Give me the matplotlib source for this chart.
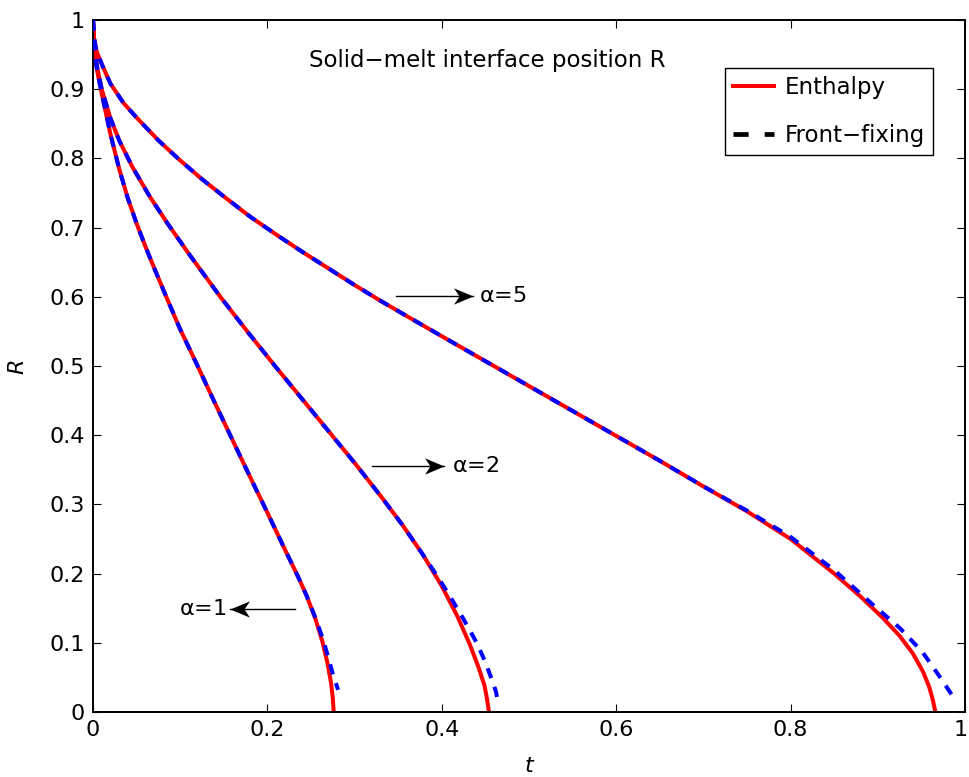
import matplotlib
matplotlib.use("Agg")
import matplotlib.pyplot as plt
from matplotlib.lines import Line2D
from matplotlib.path import Path
import matplotlib.transforms as mtransforms

plt.rcParams['font.family'] = ['DejaVu Sans']
plt.rcParams['mathtext.fontset'] = 'custom'
plt.rcParams['mathtext.it'] = 'DejaVu Sans:italic'
plt.rcParams['mathtext.rm'] = 'DejaVu Sans'

# ---- data (t, R) ----
t_enth_a1 = [0, 0.002, 0.005, 0.010, 0.020, 0.030, 0.040, 0.050, 0.060, 0.070, 0.085, 0.100, 0.120, 0.140,
             0.160, 0.180, 0.200, 0.220, 0.235, 0.245, 0.255, 0.263, 0.269, 0.273, 0.275, 0.276]
R_enth_a1 = [1, 0.950, 0.925, 0.894, 0.835, 0.785, 0.742, 0.706, 0.673, 0.642, 0.597, 0.553, 0.500, 0.446,
             0.393, 0.340, 0.288, 0.235, 0.196, 0.168, 0.135, 0.102, 0.070, 0.042, 0.020, 0.0]
t_ff_a1 = [0, 0.002, 0.005, 0.010, 0.020, 0.030, 0.040, 0.050, 0.060, 0.070, 0.085, 0.100, 0.120, 0.140,
           0.160, 0.180, 0.200, 0.220, 0.235, 0.245, 0.256, 0.264, 0.270, 0.275, 0.279, 0.281]
R_ff_a1 = [1, 0.950, 0.925, 0.894, 0.835, 0.785, 0.742, 0.706, 0.673, 0.642, 0.597, 0.553, 0.500, 0.446,
           0.393, 0.340, 0.288, 0.235, 0.196, 0.168, 0.133, 0.104, 0.078, 0.055, 0.040, 0.032]

t_enth_a2 = [0, 0.002, 0.005, 0.010, 0.020, 0.030, 0.045, 0.065, 0.086, 0.110, 0.146, 0.180, 0.210, 0.240,
             0.270, 0.300, 0.330, 0.355, 0.378, 0.400, 0.418, 0.432, 0.442, 0.449, 0.452, 0.454]
R_enth_a2 = [1, 0.955, 0.930, 0.900, 0.858, 0.826, 0.788, 0.745, 0.705, 0.662, 0.600, 0.545, 0.498, 0.452,
             0.406, 0.360, 0.312, 0.270, 0.228, 0.182, 0.138, 0.098, 0.065, 0.038, 0.018, 0.0]
t_ff_a2 = [0, 0.002, 0.005, 0.010, 0.020, 0.030, 0.045, 0.065, 0.086, 0.110, 0.146, 0.180, 0.210, 0.240,
           0.270, 0.300, 0.330, 0.355, 0.378, 0.395, 0.409, 0.425, 0.440, 0.450, 0.457, 0.462, 0.464]
R_ff_a2 = [1, 0.955, 0.930, 0.900, 0.858, 0.826, 0.788, 0.745, 0.705, 0.662, 0.600, 0.545, 0.498, 0.452,
           0.406, 0.360, 0.312, 0.270, 0.228, 0.196, 0.168, 0.134, 0.100, 0.072, 0.048, 0.030, 0.017]

t_enth_a5 = [0, 0.001, 0.004, 0.0115, 0.020, 0.035, 0.050, 0.075, 0.100, 0.125, 0.150, 0.180, 0.210, 0.240,
             0.270, 0.300, 0.330, 0.360, 0.400, 0.450, 0.500, 0.550, 0.600, 0.650, 0.700, 0.750, 0.800,
             0.850, 0.880, 0.905, 0.925, 0.940, 0.952, 0.959, 0.963, 0.966]
R_enth_a5 = [1, 0.975, 0.955, 0.932, 0.908, 0.880, 0.859, 0.826, 0.797, 0.770, 0.745, 0.716, 0.690, 0.665,
             0.641, 0.617, 0.594, 0.572, 0.543, 0.507, 0.471, 0.435, 0.399, 0.363, 0.326, 0.290, 0.250,
             0.200, 0.167, 0.137, 0.110, 0.085, 0.058, 0.036, 0.018, 0.0]
t_ff_a5 = [0, 0.001, 0.004, 0.0115, 0.020, 0.035, 0.050, 0.075, 0.100, 0.125, 0.150, 0.180, 0.210, 0.240,
           0.270, 0.300, 0.330, 0.360, 0.400, 0.450, 0.500, 0.550, 0.600, 0.650, 0.700, 0.750, 0.800,
           0.850, 0.8945, 0.9255, 0.951, 0.971, 0.989]
R_ff_a5 = [1, 0.975, 0.955, 0.932, 0.908, 0.880, 0.859, 0.826, 0.797, 0.770, 0.745, 0.716, 0.690, 0.665,
           0.641, 0.617, 0.594, 0.572, 0.543, 0.507, 0.471, 0.435, 0.399, 0.363, 0.326, 0.291, 0.253,
           0.205, 0.155, 0.121, 0.087, 0.051, 0.017]

legend_labels = ["Enthalpy", "Front\u2212fixing"]
title_text = "Solid\u2212melt interface position R"
x_ticks = [0, 0.2, 0.4, 0.6, 0.8, 1.0]
x_tick_labels = ["0", "0.2", "0.4", "0.6", "0.8", "1"]
y_ticks = [0, 0.1, 0.2, 0.3, 0.4, 0.5, 0.6, 0.7, 0.8, 0.9, 1.0]
y_tick_labels = ["0", "0.1", "0.2", "0.3", "0.4", "0.5", "0.6", "0.7", "0.8", "0.9", "1"]

# annotations: (digit, text pos, arrow tail, arrow head, text alignment)
annots = [
    ("5", (0.443, 0.601), (0.347, 0.601), (0.436, 0.601), 'left'),
    ("2", (0.412, 0.355), (0.320, 0.355), (0.403, 0.355), 'left'),
    ("1", (0.153, 0.149), (0.232, 0.149), (0.157, 0.149), 'right'),
]

fig = plt.figure(figsize=(9.70, 7.77), dpi=100)
ax = fig.add_axes([93/970, 65/777, 872/970, 692/777])

red = '#ff0000'
blue = '#0000ff'
lw = 2.9
dash = (2.6, 2.3)

for t, R in [(t_enth_a1, R_enth_a1), (t_enth_a2, R_enth_a2), (t_enth_a5, R_enth_a5)]:
    ax.plot(t, R, color=red, lw=lw, solid_capstyle='butt', solid_joinstyle='round', zorder=2)
for t, R in [(t_ff_a1, R_ff_a1), (t_ff_a2, R_ff_a2), (t_ff_a5, R_ff_a5)]:
    ax.plot(t, R, color=blue, lw=lw, dashes=dash, dash_capstyle='butt', zorder=3)

ax.set_xlim(0, 1)
ax.set_ylim(0, 1)
ax.set_xticks(x_ticks)
ax.set_xticklabels(x_tick_labels)
ax.set_yticks(y_ticks)
ax.set_yticklabels(y_tick_labels)
ax.tick_params(direction='in', length=6, width=0.8, top=True, right=True, labelsize=16, pad=6)
for s in ax.spines.values():
    s.set_linewidth(1.4)
last = ax.get_xticklabels()[-1]
last.set_transform(last.get_transform() + mtransforms.ScaledTranslation(-4/100, 0, fig.dpi_scale_trans))

ax.set_xlabel("t", fontsize=16, style='italic', labelpad=11)
ax.set_ylabel("R", fontsize=16, style='italic', labelpad=16)

ax.text(0.452, 0.942, title_text, transform=ax.transAxes, ha='center', va='center', fontsize=16.5)

head_r = Path([(0, 0), (-1, 0.42), (-0.72, 0), (-1, -0.42), (0, 0)],
              [Path.MOVETO, Path.LINETO, Path.LINETO, Path.LINETO, Path.CLOSEPOLY])
head_l = Path([(0, 0), (1, 0.42), (0.72, 0), (1, -0.42), (0, 0)],
              [Path.MOVETO, Path.LINETO, Path.LINETO, Path.LINETO, Path.CLOSEPOLY])

for digit, tp, tail, head, ha in annots:
    ax.plot([tail[0], head[0]], [tail[1], head[1]], color='black', lw=1.0, zorder=4)
    mk = head_r if head[0] > tail[0] else head_l
    ax.plot([head[0]], [head[1]], marker=mk, markersize=28, color='black', markeredgewidth=0, zorder=4)
    ax.text(tp[0], tp[1], "\u03b1=" + r"$\mathit{" + digit + "}$", ha=ha, va='center', fontsize=16)

handles = [Line2D([], [], color=red, lw=lw),
           Line2D([], [], color='black', lw=3.4, dashes=(3.2, 3.4))]
leg = ax.legend(handles, legend_labels, loc='upper right', bbox_to_anchor=(0.963, 0.931),
                fontsize=16.5, frameon=True, fancybox=False, edgecolor='black', framealpha=1,
                handlelength=1.8, handletextpad=0.45, labelspacing=1.1, borderpad=0.35,
                borderaxespad=0)
leg.get_frame().set_linewidth(1.0)

fig.savefig("out.png", dpi=100)
